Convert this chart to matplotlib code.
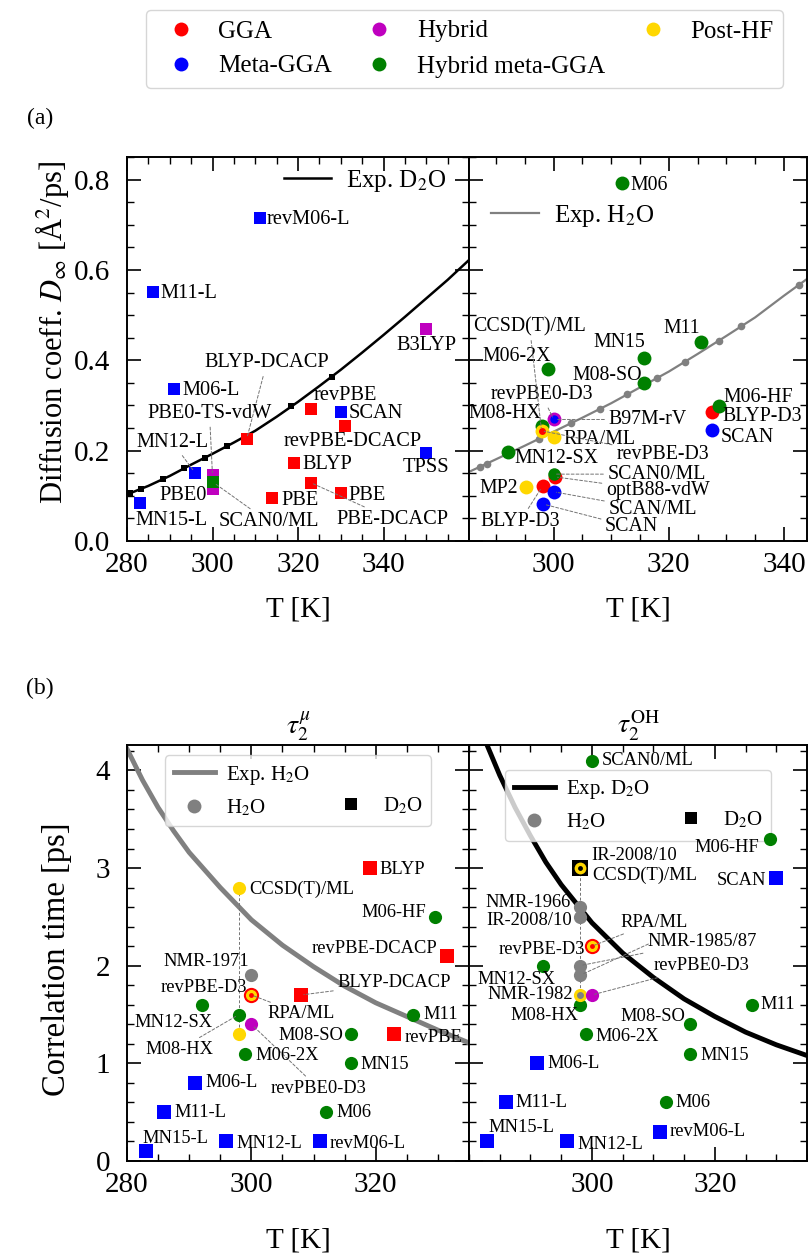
import matplotlib
matplotlib.use('Agg')
import matplotlib.pyplot as plt
from matplotlib.lines import Line2D
from matplotlib.ticker import MultipleLocator, FixedLocator

plt.rcParams['font.family'] = ['Liberation Serif', 'DejaVu Serif']
plt.rcParams['mathtext.fontset'] = 'stix'

W, H = 808, 1257
COL = {'GGA': '#ff0000', 'meta': '#0000ff', 'hyb': '#bf00bf', 'hmeta': '#008000',
       'post': '#ffd700', 'exp': '#808080'}

# ---- (a) left: D2O diffusion
aL_name = ['revM06-L', 'M11-L', 'B3LYP', 'M06-L', 'revPBE', 'SCAN', 'revPBE-DCACP', 'BLYP-DCACP',
           'TPSS', 'BLYP', 'MN12-L', 'PBE0', 'PBE0-TS-vdW', 'SCAN0/ML', 'PBE', 'PBE', 'PBE-DCACP', 'MN15-L']
aL_T = [311, 286, 350, 291, 323, 330, 331, 308, 350, 319, 296, 300, 300, 300, 314, 330, 323, 283]
aL_D = [0.716, 0.552, 0.470, 0.337, 0.292, 0.286, 0.255, 0.226, 0.195, 0.173, 0.150, 0.115, 0.145,
        0.131, 0.095, 0.106, 0.129, 0.084]
aL_cat = ['meta', 'meta', 'hyb', 'meta', 'GGA', 'meta', 'GGA', 'GGA', 'meta', 'GGA', 'meta', 'hyb', 'hyb',
          'hmeta', 'GGA', 'GGA', 'GGA', 'meta']

d2o_T = [280.7, 283.2, 288.4, 293.4, 298.2, 303.4, 308.1, 318.4, 328.0]
d2o_D = [0.106, 0.115, 0.138, 0.162, 0.184, 0.211, 0.228, 0.299, 0.363]
d2o_fit_T = [280, 285, 290, 295, 300, 305, 310, 315, 320, 325, 330, 335, 340, 345, 350, 355, 360]
d2o_fit_D = [0.103, 0.122, 0.144, 0.169, 0.193, 0.218, 0.244, 0.275, 0.308, 0.343, 0.379, 0.417,
             0.456, 0.496, 0.537, 0.578, 0.622]

# ---- (a) right: H2O diffusion
aR_name = ['M06', 'M11', 'MN15', 'M06-2X', 'M08-SO', 'BLYP-D3', 'M06-HF', 'SCAN', 'MN12-SX', 'RPA/ML',
           'revPBE0-D3', 'B97M-rV', 'M08-HX', 'CCSD(T)/ML', 'revPBE-D3', 'optB88-vdW', 'SCAN0/ML',
           'MP2', 'BLYP-D3', 'SCAN/ML', 'SCAN']
aR_T = [311.8, 325.6, 315.7, 299.0, 315.7, 327.5, 328.7, 327.5, 292.0, 300.0, 300.0, 300.0, 297.9,
        297.9, 297.9, 300.2, 300.0, 295.2, 298.1, 300.0, 298.1]
aR_D = [0.792, 0.441, 0.406, 0.381, 0.349, 0.286, 0.299, 0.246, 0.198, 0.230, 0.269, 0.269, 0.254,
        0.244, 0.244, 0.142, 0.148, 0.120, 0.122, 0.109, 0.082]
aR_cat = ['hmeta', 'hmeta', 'hmeta', 'hmeta', 'hmeta', 'GGA', 'hmeta', 'meta', 'hmeta', 'post',
          'hyb', 'meta', 'hmeta', 'post', 'GGA', 'GGA', 'hmeta', 'post', 'GGA', 'meta', 'meta']

h2o_T = [287.2, 288.4, 292.0, 297.4, 303.1, 308.1, 312.8, 318.0, 322.8, 328.7, 332.5, 342.6]
h2o_D = [0.164, 0.171, 0.192, 0.226, 0.261, 0.292, 0.325, 0.360, 0.397, 0.443, 0.475, 0.567]
h2o_fit_T = [285.3, 290, 295, 300, 305, 310, 315, 320, 325, 330, 335, 340, 344]
h2o_fit_D = [0.153, 0.181, 0.211, 0.242, 0.273, 0.305, 0.340, 0.375, 0.414, 0.454, 0.495, 0.543, 0.580]

# ---- (b) left: tau_2^mu
bL_name = ['BLYP', 'CCSD(T)/ML', 'M06-HF', 'revPBE-DCACP', 'NMR-1971', 'BLYP-DCACP', 'MN12-SX', 'M08-HX',
           '', 'revPBE0-D3', 'revPBE-D3', 'RPA/ML', 'M06-2X', 'M08-SO', 'MN15', 'M11', 'revPBE',
           'M06-L', 'M11-L', 'M06', 'MN15-L', 'MN12-L', 'revM06-L']
bL_T = [319, 298, 329.5, 331.5, 300, 308, 292, 298, 298, 300, 300, 300, 299, 316, 316, 326, 323,
        291, 286, 312, 283, 296, 311]
bL_tau = [3.0, 2.8, 2.5, 2.1, 1.9, 1.7, 1.6, 1.5, 1.3, 1.4, 1.7, 1.7, 1.1, 1.3, 1.0, 1.5, 1.3,
          0.8, 0.5, 0.5, 0.1, 0.2, 0.2]
bL_cat = ['GGA', 'post', 'hmeta', 'GGA', 'exp', 'GGA', 'hmeta', 'hmeta', 'post', 'hyb', 'GGA', 'post',
          'hmeta', 'hmeta', 'hmeta', 'hmeta', 'GGA', 'meta', 'meta', 'hmeta', 'meta', 'meta', 'meta']
bL_wat = ['D2O', 'H2O', 'H2O', 'D2O', 'H2O', 'D2O', 'H2O', 'H2O', 'H2O', 'H2O', 'H2O', 'H2O',
          'H2O', 'H2O', 'H2O', 'H2O', 'D2O', 'D2O', 'D2O', 'H2O', 'D2O', 'D2O', 'D2O']
bL_fit_T = [280, 282.5, 285, 287.5, 290, 295, 300, 305, 310, 315, 320, 325, 330, 335]
bL_fit_tau = [4.22, 3.9, 3.62, 3.38, 3.16, 2.8, 2.47, 2.21, 1.99, 1.79, 1.62, 1.48, 1.34, 1.21]

# ---- (b) right: tau_2^OH
bR_name = ['SCAN0/ML', 'M06-HF', 'SCAN', 'IR-2008/10', 'CCSD(T)/ML', 'NMR-1966', 'IR-2008/10',
           'revPBE-D3', 'RPA/ML', 'NMR-1985/87', 'NMR-1985/87', 'MN12-SX', 'M08-HX', '', 'NMR-1982',
           'revPBE0-D3', 'M11', 'M08-SO', 'M06-2X', 'MN15', 'M06-L', 'M11-L', 'M06', 'MN15-L',
           'MN12-L', 'revM06-L']
bR_T = [300, 329, 330, 298, 298, 298, 298, 300, 300, 298, 298, 292, 298, 298, 298, 300, 326, 316,
        299, 316, 291, 286, 312, 283, 296, 311]
bR_tau = [4.1, 3.3, 2.9, 3.0, 3.0, 2.6, 2.5, 2.2, 2.2, 2.0, 1.9, 2.0, 1.6, 1.7, 1.7, 1.7, 1.6, 1.4,
          1.3, 1.1, 1.0, 0.6, 0.6, 0.2, 0.2, 0.3]
bR_cat = ['hmeta', 'hmeta', 'meta', 'exp', 'post', 'exp', 'exp', 'GGA', 'post', 'exp', 'exp', 'hmeta',
          'hmeta', 'post', 'exp', 'hyb', 'hmeta', 'hmeta', 'hmeta', 'hmeta', 'meta', 'meta', 'hmeta',
          'meta', 'meta', 'meta']
bR_wat = ['H2O', 'H2O', 'D2O', 'D2O', 'H2O', 'H2O', 'H2O', 'H2O', 'H2O', 'H2O', 'H2O', 'H2O', 'H2O',
          'H2O', 'H2O', 'H2O', 'H2O', 'H2O', 'H2O', 'H2O', 'D2O', 'D2O', 'H2O', 'D2O', 'D2O', 'D2O']
bR_fit_T = [282, 285, 287.5, 290, 292.5, 295, 300, 305, 310, 315, 320, 325, 330, 335]
bR_fit_tau = [4.4, 3.95, 3.62, 3.33, 3.06, 2.83, 2.44, 2.13, 1.88, 1.66, 1.48, 1.32, 1.19, 1.08]

# ---- label layout: (align, dx px, dy px, leader: 0 none, 1 line, 2 line only)
aL_lab = [('l', 7, -2, 0), ('l', 8, -2, 0), ('c', 0, -17, 0), ('l', 8, -2, 0), ('c', 34, 14, 0),
          ('l', 8, -2, 0), ('c', 8, -16, 0), ('c', 20, 76, 1), ('c', 0, -15, 0), ('l', 9, -2, 0),
          ('c', -23, 31, 1), ('c', -29, -6, 0), ('c', -3, 62, 1), ('c', 56, -40, 1), ('l', 9, -2, 0),
          ('l', 8, -2, 0), ('c', 82, -37, 1), ('c', 32, -17, 0)]
aR_lab = [('l', 9, -2, 0), ('c', -19, 13, 0), ('c', -25, 15, 0), ('c', -31, 12, 0), ('c', -37, 8, 0),
          ('l', 10, -5, 0), ('l', 5, 8, 0), ('l', 9, -8, 0), ('c', 49, -7, 0), ('l', 10, -2, 0),
          ('c', -12, 25, 1), ('c', 94, 0, 1), ('c', -37, 13, 0), ('c', -12, 104, 1), ('c', 121, -24, 1),
          ('c', 103, -14, 1), ('c', 103, 0, 1), ('r', -8, -2, 0), ('c', -23, -36, 1), ('c', 99, -18, 1),
          ('c', 89, -23, 1)]
bL_lab = [('l', 10, -1, 0), ('l', 10, -2, 0), ('r', -9, 4, 0), ('r', -10, 7, 0), ('c', -45, 14, 0),
          ('c', 93, 12, 1), ('c', -28, -18, 0), ('c', -60, -35, 1), None, ('c', 67, -64, 1),
          ('c', -48, 7, 0), ('c', 50, -19, 1), ('l', 10, -2, 0), ('r', -8, -1, 0), ('l', 10, -1, 0),
          ('l', 10, 0, 0), ('l', 10, -3, 0), ('l', 10, 0, 0), ('l', 10, 0, 0), ('l', 10, 0, 0),
          ('c', 30, 13, 0), ('l', 10, -2, 0), ('l', 10, -2, 0)]
bR_lab = [('l', 10, 0, 0), ('c', -43, -9, 0), ('r', -10, -3, 0), ('c', 55, 13, 0), ('c', 65, -7, 0),
          ('c', -52, 5, 0), ('c', -50, -4, 0), ('c', -50, -3, 0), ('c', 62, 24, 1), ('c', 122, 24, 1),
          ('c', 70, 32, 2), ('c', -26, -14, 0), ('c', -35, -11, 0), None, ('r', -7, 0, 0),
          ('c', 110, 29, 1), ('l', 9, 0, 0), ('c', -37, 8, 0), ('l', 10, -2, 0), ('l', 10, -2, 0),
          ('l', 11, 0, 0), ('l', 10, 0, 0), ('l', 10, 0, 0), ('c', 34, 14, 0), ('l', 10, -3, 0),
          ('l', 10, 0, 0)]


def rect(x0, y0, x1, y1):
    return [x0 / W, 1 - y1 / H, (x1 - x0) / W, (y1 - y0) / H]


def style(ax, left_labels=True):
    ax.tick_params(which='both', direction='in', top=True, right=True, labelsize=21,
                   labelleft=left_labels)
    ax.tick_params(which='major', length=10, width=1.2)
    ax.tick_params(which='minor', length=5, width=1.0)
    ax.tick_params(axis='x', which='major', pad=8)
    ax.tick_params(axis='y', which='major', pad=12)
    for s in ax.spines.values():
        s.set_linewidth(1.4)


def points(ax, T, V, cat, wat, ms, big=None, dots=None):
    big = big or {}
    dots = dots or {}
    for i in range(len(T)):
        mk = 's' if wat[i] == 'D2O' else 'o'
        c = COL[cat[i]]
        if cat[i] == 'exp' and wat[i] == 'D2O':
            c = 'black'
        ax.plot(T[i], V[i], mk, ms=big.get(i, ms[mk]), color=c, mew=0, zorder=4 + 0.01 * i)
        if i in dots:
            ax.plot(T[i], V[i], 'o', ms=3.5, color=dots[i], mew=0, zorder=4.005 + 0.01 * i)


def labels(ax, names, T, V, specs, fs):
    for n, x, y, sp in zip(names, T, V, specs):
        if sp is None:
            continue
        ha, dx, dy, lead = sp
        props = None
        if lead:
            props = dict(arrowstyle='-', ls=(0, (3, 2)), color='0.45', lw=0.7, shrinkA=1, shrinkB=2)
        txt = '' if lead == 2 else n
        ax.annotate(txt, (x, y), xytext=(dx, dy), textcoords='offset pixels',
                    ha={'l': 'left', 'c': 'center', 'r': 'right'}[ha], va='center',
                    fontsize=fs, arrowprops=props, zorder=6)


fig = plt.figure(figsize=(W / 100, H / 100), dpi=100)

# ================= panel (a)
axA1 = fig.add_axes(rect(127, 157, 469, 541))
axA2 = fig.add_axes(rect(469, 157, 807, 541))
for ax in (axA1, axA2):
    ax.set_ylim(0, 0.85)
    ax.yaxis.set_major_locator(MultipleLocator(0.2))
    ax.yaxis.set_minor_locator(MultipleLocator(0.05))
    ax.xaxis.set_minor_locator(MultipleLocator(5))
    ax.set_xlabel('T [K]', fontsize=21)
axA1.set_xlim(280, 360)
axA1.xaxis.set_major_locator(FixedLocator([280, 300, 320, 340]))
axA2.set_xlim(285.3, 344)
axA2.xaxis.set_major_locator(FixedLocator([300, 320, 340]))
style(axA1)
style(axA2, False)

axA1.plot(d2o_fit_T, d2o_fit_D, color='black', lw=1.8, zorder=2, label='Exp. D$_2$O')
axA1.plot(d2o_T, d2o_D, 's', color='black', ms=5, mew=0, zorder=3)
axA1.legend(loc='upper right', bbox_to_anchor=(1.0, 1.03), frameon=False, fontsize=18,
            handlelength=1.9, handletextpad=0.6)
points(axA1, aL_T, aL_D, aL_cat, ['D2O'] * len(aL_T), {'s': 8, 'o': 10}, big={13: 8.5})
labels(axA1, aL_name, aL_T, aL_D, aL_lab, 14.7)

axA2.plot(h2o_fit_T, h2o_fit_D, color='#808080', lw=1.6, zorder=2, label='Exp. H$_2$O')
axA2.plot(h2o_T, h2o_D, 'o', color='#808080', ms=5.5, mew=0, zorder=3)
axA2.legend(loc='upper left', bbox_to_anchor=(0.0, 0.94), frameon=False, fontsize=18,
            handlelength=1.9, handletextpad=0.6)
points(axA2, aR_T, aR_D, aR_cat, ['H2O'] * len(aR_T), {'s': 8, 'o': 10},
       big={11: 6, 14: 5, 16: 9})
labels(axA2, aR_name, aR_T, aR_D, aR_lab, 14.3)

for ax in (axA1, axA2):
    ax.xaxis.set_label_coords(0.5, -0.145)

fig.text(52 / W, 1 - 332 / H, r'Diffusion coeff. $D_\infty$ [Å$^2$/ps]', rotation=90,
         ha='center', va='center', fontsize=22)
fig.text(40 / W, 1 - 118 / H, '(a)', ha='center', va='center', fontsize=17)

# ================= panel (b)
axB1 = fig.add_axes(rect(127, 745, 469, 1161))
axB2 = fig.add_axes(rect(469, 745, 807, 1161))
for ax in (axB1, axB2):
    ax.set_xlim(280, 335)
    ax.set_ylim(0, 4.26)
    ax.yaxis.set_major_locator(MultipleLocator(1))
    ax.yaxis.set_minor_locator(MultipleLocator(0.2))
    ax.xaxis.set_minor_locator(MultipleLocator(5))
    ax.set_xlabel('T [K]', fontsize=21)
    ax.xaxis.set_label_coords(0.5, -0.16)
axB1.xaxis.set_major_locator(FixedLocator([280, 300, 320]))
axB2.xaxis.set_major_locator(FixedLocator([300, 320]))
style(axB1)
style(axB2, False)
axB1.set_title(r'$\tau_2^{\mu}$', fontsize=20, pad=8)
axB2.set_title(r'$\tau_2^{\rm OH}$', fontsize=20, pad=8)

axB1.plot(bL_fit_T, bL_fit_tau, color='#808080', lw=3.5, zorder=2)
axB2.plot(bR_fit_T, bR_fit_tau, color='black', lw=3.5, zorder=2)

# dashed connectors
axB1.plot([bL_T[1], bL_T[8]], [bL_tau[1], bL_tau[8]], ls=(0, (3, 2)), color='0.45', lw=0.7, zorder=3)
axB2.plot([bR_T[3], bR_T[14]], [bR_tau[3], bR_tau[14]], ls=(0, (3, 2)), color='0.45', lw=0.7, zorder=3)

points(axB1, bL_T, bL_tau, bL_cat, bL_wat, {'s': 10, 'o': 9.5}, big={10: 11, 11: 8},
       dots={11: '#ff0000'})
labels(axB1, bL_name, bL_T, bL_tau, bL_lab, 13.3)
points(axB2, bR_T, bR_tau, bR_cat, bR_wat, {'s': 10, 'o': 9.5},
       big={3: 11, 4: 8.5, 7: 11, 8: 8, 14: 5}, dots={4: 'black', 8: '#ff0000'})
labels(axB2, bR_name, bR_T, bR_tau, bR_lab, 13.3)

blank = Line2D([], [], ls='none')
h_pt = Line2D([], [], marker='o', ls='none', color='#808080', ms=10, mew=0)
d_pt = Line2D([], [], marker='s', ls='none', color='black', ms=9, mew=0)
for ax, line, lab, anchor in ((axB1, Line2D([], [], color='#808080', lw=3.5), 'Exp. H$_2$O', 1.0),
                              (axB2, Line2D([], [], color='black', lw=3.5), 'Exp. D$_2$O', 0.965)):
    leg = ax.legend([line, h_pt, blank, d_pt], [lab, 'H$_2$O', ' ', 'D$_2$O'], ncol=2,
                    loc='upper center', bbox_to_anchor=(0.5, anchor), fontsize=15, handlelength=2.0,
                    handletextpad=0.5, columnspacing=1.0)
    leg.set_zorder(3.5)

fig.text(57 / W, 1 - 959 / H, 'Correlation time [ps]', rotation=90, ha='center', va='center',
         fontsize=23.5)
fig.text(40 / W, 1 - 688 / H, '(b)', ha='center', va='center', fontsize=17)

# ================= top legend
cats = ['GGA', 'meta', 'hyb', 'hmeta', 'post']
cat_names = ['GGA', 'Meta-GGA', 'Hybrid', 'Hybrid meta-GGA', 'Post-HF']
handles = [Line2D([], [], marker='o', ls='none', color=COL[c], ms=10, mew=0) for c in cats]
fig.legend(handles, cat_names, loc='upper center', bbox_to_anchor=(464.5 / W, 1 - 10 / H), ncol=3,
           fontsize=18, handletextpad=0.5, columnspacing=0.9, borderaxespad=0)

fig.savefig('out.png', dpi=100)
